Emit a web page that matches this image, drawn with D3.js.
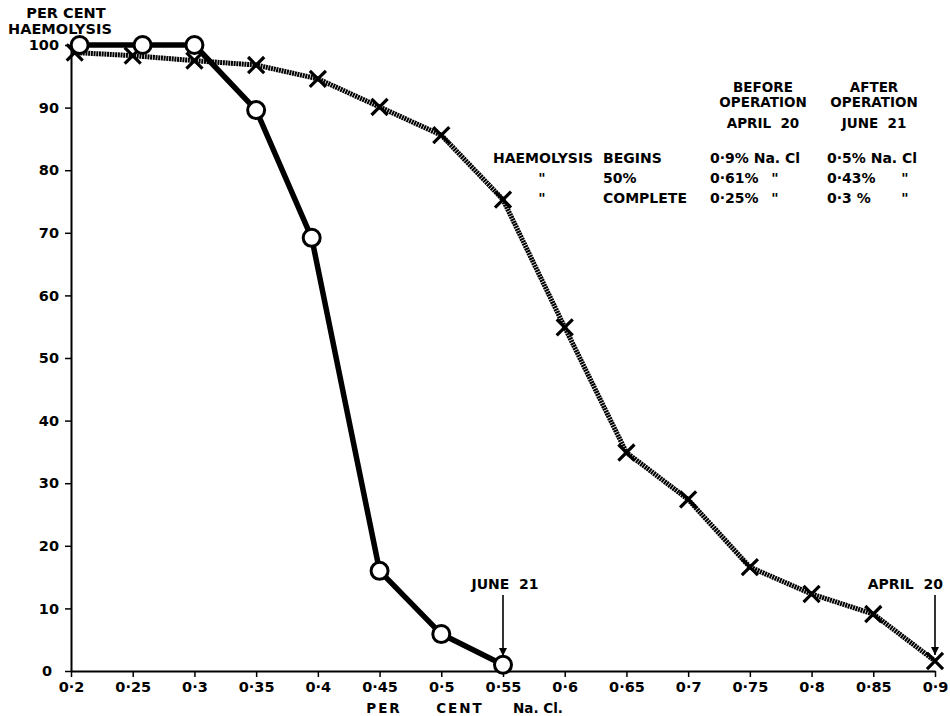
<!DOCTYPE html>
<html><head><meta charset="utf-8">
<script src="https://cdn.jsdelivr.net/npm/d3@7"></script>
<style>
body{margin:0;background:#fff;}
svg{display:block;}
text{font-family:"DejaVu Sans",sans-serif;font-weight:bold;fill:#000;}
</style></head>
<body>
<svg id="c" width="950" height="716"></svg>
<script>
// X ticks (per cent NaCl)
const xTicks = [0.2,0.25,0.3,0.35,0.4,0.45,0.5,0.55,0.6,0.65,0.7,0.75,0.8,0.85,0.9];
const yTicks = [0,10,20,30,40,50,60,70,80,90,100];
// Before operation, April 20 (crosses, hatched line)
const aprilX = [0.203,0.25,0.3,0.35,0.4,0.45,0.5,0.55,0.6,0.65,0.7,0.75,0.8,0.85,0.9];
const aprilY = [98.8,98.3,97.5,96.8,94.6,90.1,85.6,75.3,54.9,34.9,27.4,16.6,12.3,9.1,1.6];
// After operation, June 21 (circles, solid line)
const juneX = [0.207,0.258,0.3,0.35,0.395,0.45,0.5,0.55];
const juneY = [100,100,100,89.6,69.2,16,5.9,1];
// Table
const tableHeadBefore = ["BEFORE","OPERATION","APRIL\u00a0\u00a020"];
const tableHeadAfter = ["AFTER","OPERATION","JUNE\u00a0\u00a021"];
const rowLabelA = ["HAEMOLYSIS","\"","\""];
const rowLabelB = ["BEGINS","50%","COMPLETE"];
const beforeVals = ["0·9% Na. Cl","0·61%","0·25%"];
const afterVals = ["0·5% Na. Cl","0·43%","0·3 %"];
const beforeDitto = ["","\"","\""];
const afterDitto = ["","\"","\""];

const svg = d3.select("#c");
const x = d3.scaleLinear().domain([0.2,0.9]).range([71,935]);
const y = d3.scaleLinear().domain([0,100]).range([671,45]);

const fmt = d => d3.format(".2~f")(d).replace(".", "·");

// axes
const xa = svg.append("g").attr("transform",`translate(0,${y(0)})`)
  .call(d3.axisBottom(x).tickValues(xTicks).tickSize(6).tickSizeOuter(0).tickFormat(fmt));
xa.select(".domain").attr("stroke","#000").attr("stroke-width",2);
xa.selectAll(".tick line").attr("stroke","#000").attr("stroke-width",1.5);
xa.selectAll(".tick text").attr("font-size",14.5).attr("dy","0.85em").attr("font-family","DejaVu Sans").attr("font-weight","bold");

const ya = svg.append("g").attr("transform",`translate(${x(0.2)},0)`)
  .call(d3.axisLeft(y).tickValues(yTicks).tickSize(6).tickSizeOuter(0));
ya.select(".domain").attr("stroke","#000").attr("stroke-width",2);
ya.selectAll(".tick line").attr("stroke","#000").attr("stroke-width",1.5);
ya.selectAll(".tick text").attr("font-size",14.5).attr("dx","-3").attr("font-family","DejaVu Sans").attr("font-weight","bold");
ya.selectAll(".tick").filter(d=>d===0).select("text").text("0").attr("dx","-10");

// axis titles
svg.append("text").attr("x",66).attr("y",18).attr("text-anchor","middle").attr("font-size",14.5).text("PER CENT");
svg.append("text").attr("x",60).attr("y",34).attr("text-anchor","middle").attr("font-size",14.5).text("HAEMOLYSIS");
svg.append("text").attr("x",384).attr("y",713).attr("text-anchor","middle").attr("font-size",13.5).attr("letter-spacing","2").text("PER");
svg.append("text").attr("x",460).attr("y",713).attr("text-anchor","middle").attr("font-size",13.5).attr("letter-spacing","2").text("CENT");
svg.append("text").attr("x",538).attr("y",713).attr("text-anchor","middle").attr("font-size",13.5).text("Na. Cl.");

// April line (hatched)
const aprilData = aprilX.map((v,i)=>[v,aprilY[i]]);
const juneData = juneX.map((v,i)=>[v,juneY[i]]);
const line = d3.line().x(d=>x(d[0])).y(d=>y(d[1]));
svg.append("path").attr("d",line(aprilData)).attr("fill","none")
  .attr("stroke","#000").attr("stroke-width",5).attr("stroke-dasharray","2,0.7");
svg.selectAll(".xm").data(aprilData).enter().append("path")
  .attr("transform",d=>`translate(${x(d[0])},${y(d[1])})`)
  .attr("d",d3.symbol(d3.symbolTimes,170)())
  .attr("fill","none").attr("stroke","#000").attr("stroke-width",3.2);

// June line (solid)
svg.append("path").attr("d",line(juneData)).attr("fill","none")
  .attr("stroke","#000").attr("stroke-width",5.5).attr("stroke-linejoin","round");
svg.selectAll(".om").data(juneData).enter().append("circle")
  .attr("cx",d=>x(d[0])).attr("cy",d=>y(d[1])).attr("r",8.5)
  .attr("fill","#fff").attr("stroke","#000").attr("stroke-width",3);

// arrows
svg.append("defs").append("marker").attr("id","ah").attr("viewBox","0 0 10 10")
  .attr("refX",10).attr("refY",5).attr("markerWidth",8).attr("markerHeight",8)
  .attr("markerUnits","userSpaceOnUse").attr("orient","auto")
  .append("path").attr("d","M0,0L10,5L0,10Z").attr("fill","#000");
function arrow(xv,y0,y1){
  svg.append("line").attr("x1",x(xv)).attr("x2",x(xv)).attr("y1",y0).attr("y2",y1)
    .attr("stroke","#000").attr("stroke-width",1.6).attr("marker-end","url(#ah)");
}
svg.append("text").attr("x",x(0.55)+2).attr("y",589).attr("text-anchor","middle").attr("font-size",14).text("JUNE\u00a0\u00a021");
arrow(0.55,595,656);
svg.append("text").attr("x",943).attr("y",589).attr("text-anchor","end").attr("font-size",14).text("APRIL\u00a0\u00a020");
arrow(0.9,595,655);

// table
const hy = [92,107,128];
tableHeadBefore.forEach((t,i)=>svg.append("text").attr("x",763).attr("y",hy[i]).attr("text-anchor","middle").attr("font-size",13.5).text(t));
tableHeadAfter.forEach((t,i)=>svg.append("text").attr("x",874).attr("y",hy[i]).attr("text-anchor","middle").attr("font-size",13.5).text(t));
const ry = [163,183,203];
rowLabelA.forEach((t,i)=>svg.append("text").attr("x",i===0?493:542).attr("y",ry[i]).attr("text-anchor",i===0?"start":"middle").attr("font-size",14).text(t));
rowLabelB.forEach((t,i)=>svg.append("text").attr("x",603).attr("y",ry[i]).attr("font-size",14).text(t));
beforeVals.forEach((t,i)=>svg.append("text").attr("x",710).attr("y",ry[i]).attr("font-size",14).text(t));
afterVals.forEach((t,i)=>svg.append("text").attr("x",827).attr("y",ry[i]).attr("font-size",14).text(t));
beforeDitto.forEach((t,i)=>svg.append("text").attr("x",775).attr("y",ry[i]).attr("text-anchor","middle").attr("font-size",14).text(t));
afterDitto.forEach((t,i)=>svg.append("text").attr("x",905).attr("y",ry[i]).attr("text-anchor","middle").attr("font-size",14).text(t));
</script>
</body></html>
